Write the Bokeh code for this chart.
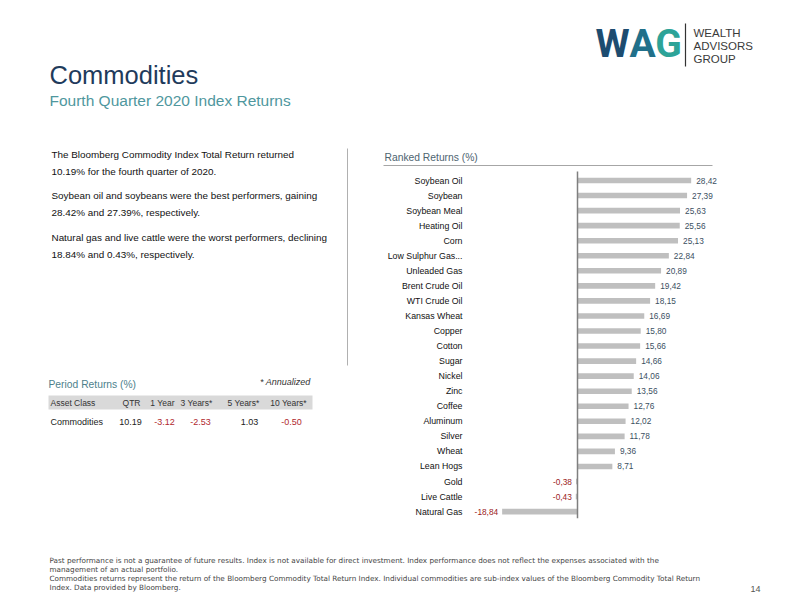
from bokeh.plotting import figure
from bokeh.models import Range1d, ColumnDataSource
from bokeh.embed import file_html
from bokeh.resources import INLINE
from bokeh.core.properties import value

# ---------------- data ----------------
commodities = ["Soybean Oil", "Soybean", "Soybean Meal", "Heating Oil", "Corn",
               "Low Sulphur Gas...", "Unleaded Gas", "Brent Crude Oil", "WTI Crude Oil",
               "Kansas Wheat", "Copper", "Cotton", "Sugar", "Nickel", "Zinc", "Coffee",
               "Aluminum", "Silver", "Wheat", "Lean Hogs", "Gold", "Live Cattle", "Natural Gas"]
returns = [28.42, 27.39, 25.63, 25.56, 25.13, 22.84, 20.89, 19.42, 18.15, 16.69, 15.80,
           15.66, 14.66, 14.06, 13.56, 12.76, 12.02, 11.78, 9.36, 8.71, -0.38, -0.43, -18.84]

period_headers = ["QTR", "1 Year", "3 Years*", "5 Years*", "10 Years*"]
period_asset = "Commodities"
period_values = [10.19, -3.12, -2.53, 1.03, -0.50]

intro_lines = [
    ["The Bloomberg Commodity Index Total Return returned", "10.19% for the fourth quarter of 2020."],
    ["Soybean oil and soybeans were the best performers, gaining", "28.42% and 27.39%, respectively."],
    ["Natural gas and live cattle were the worst performers, declining", "18.84% and 0.43%, respectively."],
]
footer_lines = [
    "Past performance is not a guarantee of future results. Index is not available for direct investment. Index performance does not reflect the expenses associated with the",
    "management of an actual portfolio.",
    "Commodities returns represent the return of the Bloomberg Commodity Total Return Index. Individual commodities are sub-index values of the Bloomberg Commodity Total Return",
    "Index. Data provided by Bloomberg.",
]

FONT = value("Liberation Sans")
WIDE = value("DejaVu Sans")

# ---------------- page figure (page pixel coordinates) ----------------
W, H = 776, 596
p = figure(width=W, height=H, x_range=Range1d(0, W), y_range=Range1d(H, 0),
           output_backend="svg", toolbar_location=None, min_border=0,
           x_axis_type=None, y_axis_type=None)
p.grid.visible = False
p.outline_line_color = None
p.background_fill_color = "white"
p.border_fill_color = "white"

# bar chart ranges: zero at page x 577, 4 px per %; row 0 at page y 180, 15.05 px per row
x0_px, px_per = 577.0, 4.0
y0_px, row_px = 180.0, 15.05
p.extra_x_ranges = {"bx": Range1d((0 - x0_px) / px_per, (W - x0_px) / px_per)}
p.extra_y_ranges = {"by": Range1d((H - y0_px) / row_px, (0 - y0_px) / row_px)}

# ---------------- header ----------------
p.text(x=[49], y=[74], text=["Commodities"], text_font=FONT, text_font_size="25.5px",
       text_color="#1f3b5c", text_baseline="middle")
p.text(x=[49], y=[100], text=["Fourth Quarter 2020 Index Returns"], text_font=FONT,
       text_font_size="15.5px", text_color="#4f979e", text_baseline="middle")

# logo
for ch, cx, col in [("W", 612, "#1d4c70"), ("A", 642, "#21708a"), ("G", 668, "#2da398")]:
    p.text(x=[cx], y=[43], text=[ch], text_font=value("Roboto"), text_font_size="39px",
           text_font_style="bold", text_color=col, text_align="center", text_baseline="middle")
p.segment(x0=[685], x1=[685], y0=[23], y1=[66], line_color="#333333", line_width=1.2)
p.text(x=[693, 693, 693], y=[32, 45.5, 58], text=["WEALTH", "ADVISORS", "GROUP"],
       text_font=FONT, text_font_size="11.5px", text_color="#3a3a3a", text_baseline="middle")

# ---------------- intro text ----------------
para_y = [154, 195, 237]
for lines, y in zip(intro_lines, para_y):
    p.text(x=[51, 51], y=[y, y + 17], text=lines, text_font=FONT, text_font_size="9.9px",
           text_color="#111111", text_baseline="middle")
p.segment(x0=[347], x1=[347], y0=[148], y1=[365], line_color="#b0b0b0", line_width=1)

# ---------------- period returns table ----------------
p.text(x=[48], y=[384], text=["Period Returns (%)"], text_font=FONT, text_font_size="10.3px",
       text_color="#4d7f8c", text_baseline="middle")
p.text(x=[310], y=[381], text=["* Annualized"], text_font=FONT, text_font_size="9px",
       text_font_style="italic", text_color="#333333", text_baseline="middle", text_align="right")
p.quad(left=[48], right=[312], top=[395], bottom=[409], fill_color="#d9d9d9", line_color=None)
hdr_x = [131, 162, 196, 243, 288]
val_x = [130, 164, 200, 249, 291]
p.text(x=[50], y=[402], text=["Asset Class"], text_font=FONT, text_font_size="8.5px",
       text_color="#333333", text_baseline="middle")
p.text(x=hdr_x, y=[402] * len(hdr_x), text=period_headers, text_font=FONT, text_font_size="8.5px",
       text_color="#333333", text_baseline="middle", text_align="center")
p.text(x=[50], y=[421], text=[period_asset], text_font=FONT, text_font_size="9px",
       text_color="#222222", text_baseline="middle")
p.text(x=val_x, y=[421] * len(val_x), text=[f"{v:.2f}" for v in period_values],
       text_color=["#b0282e" if v < 0 else "#222222" for v in period_values],
       text_font=FONT, text_font_size="9px", text_baseline="middle", text_align="center")

# ---------------- ranked returns bar chart ----------------
p.text(x=[384], y=[157], text=["Ranked Returns (%)"], text_font=FONT, text_font_size="10.3px",
       text_color="#4d6470", text_baseline="middle")
p.segment(x0=[383], x1=[712], y0=[165], y1=[165], line_color="#a6a6a6", line_width=1)

idx = list(range(len(commodities)))
src = ColumnDataSource(dict(
    y=idx, v=returns, cat=commodities,
    lab=[f"{v:.2f}".replace(".", ",") for v in returns],
    align=["right" if v < 0 else "left" for v in returns],
    off=[-4 if v < 0 else 5 for v in returns],
    col=["#9b1c1c" if v < 0 else "#3b4f5f" for v in returns],
    catx=[462] * len(returns),
))
p.hbar(y="y", left=0, right="v", height=5.6 / row_px, source=src, fill_color="#bfbfbf",
       line_color=None, x_range_name="bx", y_range_name="by")
p.segment(x0=[0], x1=[0], y0=[-0.6], y1=[22.45], line_color="#7f7f7f", line_width=1.5,
          x_range_name="bx", y_range_name="by")
p.text(x="catx", y="y", text="cat", source=src, y_range_name="by", text_font=FONT,
       text_font_size="8.8px", text_color="#111111", text_align="right", text_baseline="middle")
p.text(x="v", y="y", text="lab", source=src, x_range_name="bx", y_range_name="by",
       x_offset="off", text_align="align", text_color="col", text_font=FONT,
       text_font_size="8.3px", text_baseline="middle")

# ---------------- footer ----------------
p.text(x=[49] * 4, y=[560, 569, 578, 587], text=footer_lines, text_font=WIDE,
       text_font_size="7.25px", text_color="#444444", text_baseline="middle")
p.text(x=[760], y=[588], text=["14"], text_font=FONT, text_font_size="9px",
       text_color="#555555", text_baseline="middle", text_align="right")

open("out.html", "w").write(file_html(p, INLINE))
